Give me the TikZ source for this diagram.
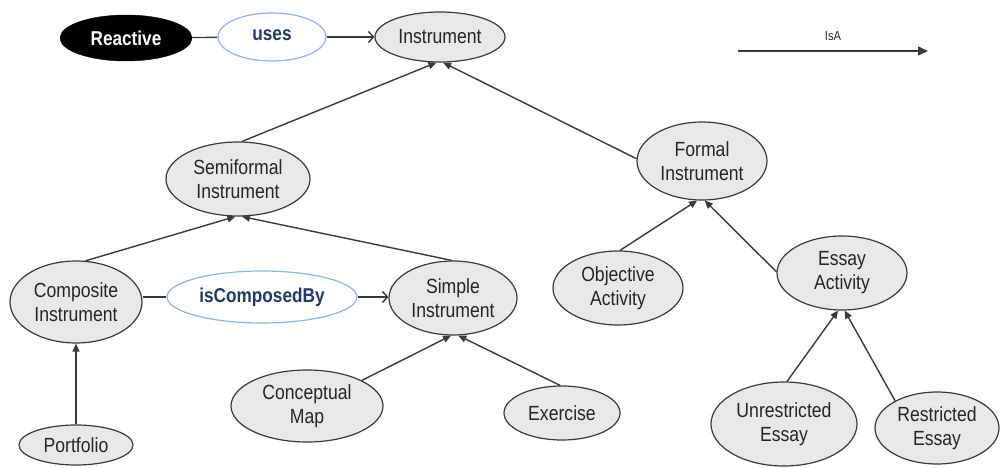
\documentclass[tikz,border=0pt]{standalone}
\usepackage{fontspec}
\setmainfont{Liberation Sans}[FakeStretch=0.86]
\usetikzlibrary{shapes.geometric,arrows.meta}

\definecolor{edgegray}{HTML}{3A3A3A}
\definecolor{nodefill}{HTML}{E8E8E8}
\definecolor{relblue}{HTML}{8EB4E3}
\definecolor{relnavy}{HTML}{1F3A68}

\tikzset{
  concept/.style={ellipse, draw=edgegray, fill=nodefill, line width=1.2pt,
    inner sep=0pt, align=center, text=black!85,
    font=\fontsize{20.5}{24}\selectfont},
  relation/.style={ellipse, draw=relblue, fill=white, line width=1.2pt,
    inner sep=0pt, text=relnavy, font=\bfseries\fontsize{20}{24}\selectfont},
  rootnode/.style={ellipse, draw=black, fill=black, inner sep=0pt,
    text=white, font=\bfseries\fontsize{20}{24}\selectfont},
  link/.style={draw=edgegray, line width=1.4pt},
  isa/.style={link, -{Triangle[length=8pt,width=7pt]}},
  assoc/.style={link, -{Straight Barb[length=5pt,width=11pt]}},
}

\begin{document}
\begin{tikzpicture}[x=1pt,y=-1pt]
\useasboundingbox (0,0) rectangle (1001,468);

% top row: Reactive --uses--> Instrument
\node[rootnode, minimum width=132pt, minimum height=46pt] (reactive) at (126,38) {Reactive};
\node[relation, minimum width=108pt, minimum height=48pt] (uses) at (272,37) {\raisebox{4pt}{uses}};
\node[concept, minimum width=130pt, minimum height=50pt] (inst) at (440,37) {Instrument};

% legend
\coordinate (legA) at (738,51);
\coordinate (legB) at (928,51);
\draw[link, -{Triangle[length=10pt,width=9pt]}] (legA) -- (legB)
  node[midway, above=6pt, font=\fontsize{13}{15}\selectfont, text=black!85] {IsA};

% second level
\node[concept, minimum width=144pt, minimum height=74pt] (semi) at (238,179) {Semiformal\\Instrument};
\node[concept, minimum width=130pt, minimum height=78pt] (formal) at (702,161) {Formal\\Instrument};

% third level
\node[concept, minimum width=132pt, minimum height=82pt] (comp) at (76,302) {Composite\\Instrument};
\node[relation, minimum width=190pt, minimum height=52pt] (composed) at (262,297) {\raisebox{3pt}{isComposedBy}};
\node[concept, minimum width=128pt, minimum height=74pt] (simple) at (453,298) {Simple\\Instrument};
\node[concept, minimum width=130pt, minimum height=74pt] (objective) at (618,288) {Objective\\Activity};
\node[concept, minimum width=130pt, minimum height=74pt] (essay) at (842,273) {Essay\\Activity};

% leaves
\node[concept, minimum width=114pt, minimum height=40pt] (portfolio) at (76,445) {Portfolio};
\node[concept, minimum width=152pt, minimum height=72pt] (cmap) at (307,406) {Conceptual\\Map};
\node[concept, minimum width=116pt, minimum height=54pt] (exercise) at (562,413) {Exercise};
\node[concept, minimum width=146pt, minimum height=84pt] (unres) at (784,424) {Unrestricted\\Essay};
\node[concept, minimum width=124pt, minimum height=72pt] (res) at (937,428) {Restricted\\Essay};

% association links
\draw[link] (reactive) -- (uses);
\draw[assoc] (uses) -- (inst);
\draw[link] (comp.east |- composed) -- (composed);
\draw[assoc] (composed) -- (simple.west |- composed);

% IsA hierarchy
\draw[isa] (semi.84) -- (inst.262);
\draw[isa] (formal.178) -- (inst.277);
\draw[isa] (comp.77) -- (semi.266);
\draw[isa] (simple.92) -- (semi.276);
\draw[isa] (objective.87) -- (formal.263);
\draw[isa] (essay.179) -- (formal.274);
\draw[isa] (portfolio) -- (comp);
\draw[isa] (cmap.25) -- (simple.267);
\draw[isa] (exercise.94) -- (simple.278);
\draw[isa] (unres.86) -- (essay.264);
\draw[isa] (res.147) -- (essay.274);
\end{tikzpicture}
\end{document}
